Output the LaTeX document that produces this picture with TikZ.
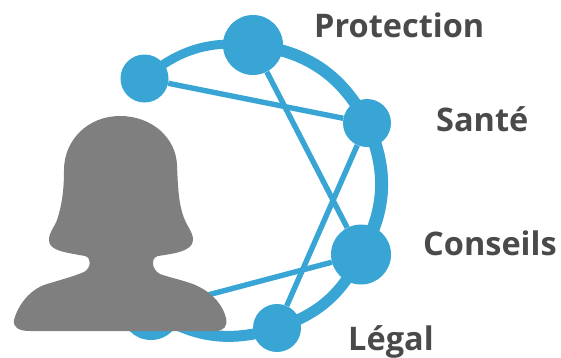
\documentclass[tikz,border=0pt]{standalone}
\usepackage{fontspec}
\setmainfont{Open Sans}
\definecolor{netblue}{HTML}{38A5D5}
\definecolor{persongray}{HTML}{7F7F7F}
\definecolor{labelgray}{HTML}{4A4A4A}
\tikzset{
  hub/.style={circle,fill=netblue,inner sep=0pt,minimum size=#1},
  rim/.style={draw=netblue,line width=#1},
  spoke/.style={draw=netblue,line width=5.4pt},
  lab/.style={text=labelgray,font=\bfseries\fontsize{32.5}{38}\selectfont,inner sep=0pt}
}
\begin{document}
\begin{tikzpicture}[x=1pt,y=-1pt]
\useasboundingbox (0,0) rectangle (561,357);
\node[hub=48pt] (A) at (144.5,78.5) {};
\node[hub=60pt] (B) at (253,45) {};
\node[hub=48pt] (C) at (367,123) {};
\node[hub=60pt] (D) at (361,254.5) {};
\node[hub=48pt] (E) at (277,328) {};
\node[hub=60pt] (F) at (151,310) {};
\draw[rim=9pt] (A.center) to[bend left=23] (B.center);
\draw[rim=12pt] (B.center) to[bend left=28] (C.center);
\draw[rim=13pt] (C.center) to[bend left=27] (D.center);
\draw[rim=11pt] (D.center) to[bend left=23] (E.center);
\draw[rim=11pt] (E.center) to[bend left=26] (F.center);
\draw[spoke] (A) -- (C);
\draw[spoke] (B) -- (D);
\draw[spoke] (C) -- (E);
\draw[spoke] (F) -- (D);
\fill[persongray] (120,116)
  .. controls (88,116) and (64,140) .. (64,170)
  .. controls (64,190) and (62,205) .. (57,220)
  .. controls (54,228) and (49,232) .. (49,240)
  .. controls (49,250) and (62,252) .. (85,256)
  .. controls (92,258) and (91,268) .. (84,272)
  .. controls (72,277) and (60,280) .. (47,284)
  .. controls (30,289) and (18,305) .. (14,320)
  .. controls (13,327) and (18,331) .. (30,331)
  -- (215,331)
  .. controls (224,331) and (228,326) .. (226,318)
  .. controls (222,302) and (208,289) .. (190,283)
  .. controls (178,279) and (168,277) .. (160,274)
  .. controls (152,270) and (150,258) .. (158,256)
  .. controls (170,254) and (193,252) .. (193,240)
  .. controls (193,232) and (188,228) .. (184,218)
  .. controls (179,205) and (178,190) .. (177,165)
  .. controls (176,138) and (152,116) .. (120,116) -- cycle;
\node[lab,anchor=base west] (p) at (314,37) {Protection};
\node[lab,anchor=base west] (s) at (436,131) {Santé};
\node[lab,anchor=base west] (c) at (423,255.5) {Conseils};
\node[lab,anchor=base west] (l) at (348,350) {Légal};
\end{tikzpicture}
\end{document}
